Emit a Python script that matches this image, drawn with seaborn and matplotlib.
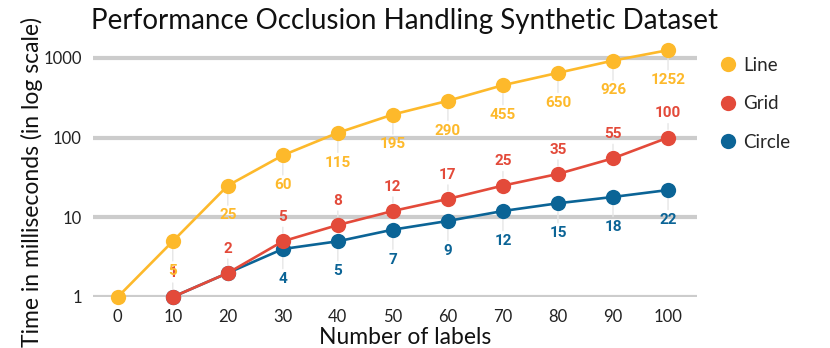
import matplotlib
matplotlib.use("Agg")
import matplotlib.pyplot as plt
import seaborn as sns
import pandas as pd

# values
labels_count = [0, 10, 20, 30, 40, 50, 60, 70, 80, 90, 100]
line_ms = [1, 5, 25, 60, 115, 195, 290, 455, 650, 926, 1252]
grid_ms = [None, 1, 2, 5, 8, 12, 17, 25, 35, 55, 100]
circle_ms = [None, 1, 2, 4, 5, 7, 9, 12, 15, 18, 22]

series = [
    ("Circle", circle_ms, "#0b6496", "below"),
    ("Grid", grid_ms, "#e34a3a", "above"),
    ("Line", line_ms, "#fdb92b", "below"),
]

sns.set_theme(style="white")
plt.rcParams["font.family"] = ["Lato", "DejaVu Sans"]

fig = plt.figure(figsize=(8.3, 3.48), dpi=100)
ax = fig.add_axes([0.112, 0.1466, 0.728, 0.7384])

for name, vals, color, where in series:
    df = pd.DataFrame({"n": labels_count, "ms": vals}).dropna()
    sns.lineplot(data=df, x="n", y="ms", ax=ax, color=color, linewidth=1.9,
                 marker="o", markersize=11, markeredgewidth=0, clip_on=False,
                 zorder=3)
    for x, y in zip(df["n"], df["ms"]):
        # labels under the bottom gridline are hidden in the original
        if where == "below" and y < 2.5:
            continue
        dy = -21.5 if where == "below" else 17.5
        ax.annotate(f"{y:g}", xy=(x, y), xytext=(0, dy), textcoords="offset points",
                    ha="center", va="center", color=color, fontsize=11,
                    fontweight="bold", family=["Roboto", "DejaVu Sans"],
                    arrowprops=dict(arrowstyle="-", color="#e6e6e6", lw=1,
                                    shrinkA=0, shrinkB=6),
                    zorder=2)

ax.set_yscale("log")
ax.set_ylim(1, 10 ** 3.225)
ax.set_xlim(-4.5, 105.3)
ax.set_yticks([1, 10, 100, 1000])
ax.set_yticklabels(["1", "10", "100", "1000"])
ax.minorticks_off()
ax.set_xticks(labels_count)
ax.tick_params(axis="both", length=0, labelsize=12, colors="#222222", pad=8)
ax.tick_params(axis="x", pad=9)
ax.yaxis.grid(True, color="#cccccc", linewidth=3, zorder=0)
ax.xaxis.grid(False)
ax.set_axisbelow(True)
for s in ax.spines.values():
    s.set_visible(False)

ax.set_xlabel("Number of labels", fontsize=16.5, color="#111111", va="center")
ax.xaxis.set_label_coords(0.516, -0.156)
ax.set_ylabel("Time in milliseconds (in log scale)", fontsize=16.5, color="#111111",
              va="center")
ax.yaxis.set_label_coords(-0.101, 0.4475)
fig.text(0.487, 0.94, "Performance Occlusion Handling Synthetic Dataset",
         ha="center", va="center", fontsize=20, color="#111111")

handles = [plt.Line2D([], [], marker="o", linestyle="none", markersize=11,
                      markeredgewidth=0, color=c, label=n)
           for n, _, c, _ in reversed(series)]
leg = fig.legend(handles=handles, loc="upper left", bbox_to_anchor=(0.845, 0.885),
                 frameon=False, fontsize=13.5, handletextpad=0.35, labelspacing=1.15,
                 handlelength=1.0)

fig.savefig("out.png", dpi=100)
